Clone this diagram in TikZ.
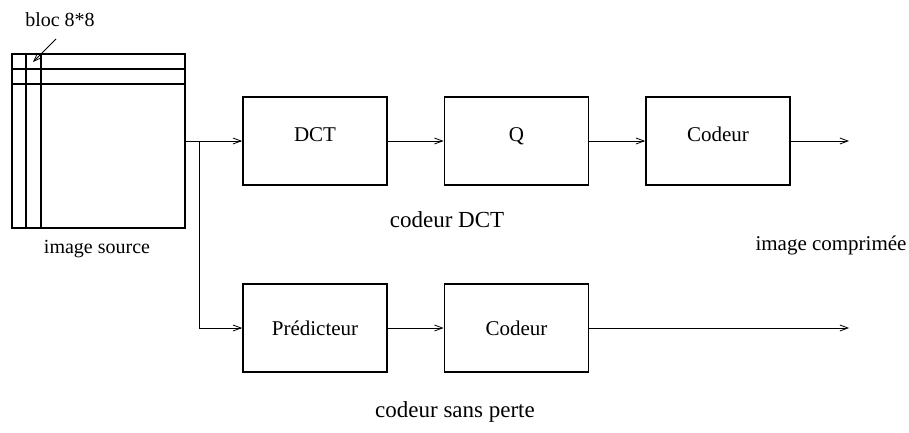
\documentclass[tikz,border=0pt]{standalone}
\usepackage{fontspec}
\setmainfont{Liberation Serif}
\usetikzlibrary{arrows.meta}
\tikzset{
  blk/.style={draw, line width=1.8pt, minimum width=144pt, minimum height=88pt, inner sep=0pt},
  imgbox/.style={draw, line width=1.8pt, minimum width=173pt, minimum height=174pt, inner sep=0pt},
  grid line/.style={line width=1.6pt},
  conn/.style={line width=0.8pt, -{Straight Barb[length=8pt,width=6pt]}},
  boxtxt/.style={font=\fontsize{21}{21}\selectfont, inner sep=0pt, anchor=base},
  captxt/.style={font=\fontsize{23}{23}\selectfont, inner sep=0pt, anchor=base},
  smalltxt/.style={font=\fontsize{20}{20}\selectfont, inner sep=0pt, anchor=base},
}
\begin{document}
\begin{tikzpicture}[x=1pt,y=-1pt]
\useasboundingbox (0,0) rectangle (909,433);
% image source
\node[imgbox] (img) at (98.5,141.2) {};
\draw[grid line] (26,54.2) -- (26,228.2);
\draw[grid line] (41,54.2) -- (41,228.2);
\draw[grid line] (12,69) -- (185,69);
\draw[grid line] (12,84) -- (185,84);
\node[smalltxt] (bloclbl) at (60,27) {bloc 8*8};
\coordinate (blocstart) at (56,39);
\coordinate (blocend) at (33,62);
\draw[conn] (blocstart) -- (blocend);
\node[smalltxt] (srclbl) at (97,253) {image source};
% top row
\node[blk] (dct) at (315,141) {};
\node[boxtxt] at (dct.center) {DCT};
\node[blk] (q) at (516.5,141) {};
\node[boxtxt] at (q.center) {Q};
\node[blk] (cod1) at (718,141) {};
\node[boxtxt] at (cod1.center) {Codeur};
% bottom row
\node[blk] (pred) at (315,328) {};
\node[boxtxt] at ([yshift=-7pt]pred.center) {Prédicteur};
\node[blk] (cod2) at (516.5,328) {};
\node[boxtxt] at ([yshift=-7pt]cod2.center) {Codeur};
% captions
\node[captxt] (capdct) at (447,227) {codeur DCT};
\node[captxt] (capsp) at (455,417) {codeur sans perte};
\node[boxtxt] (capimg) at (831,250) {image comprimée};
% connectors
\coordinate (split) at (199.5,141);
\coordinate (out1) at (849,141);
\coordinate (out2) at (849,328);
\draw[conn] (img.east |- dct.west) -- (dct.west);
\draw[conn] (split) |- (pred.west);
\draw[conn] (dct.east) -- (q.west);
\draw[conn] (q.east) -- (cod1.west);
\draw[conn] (cod1.east) -- (out1);
\draw[conn] (pred.east) -- (cod2.west);
\draw[conn] (cod2.east) -- (out2);
\end{tikzpicture}
\end{document}
